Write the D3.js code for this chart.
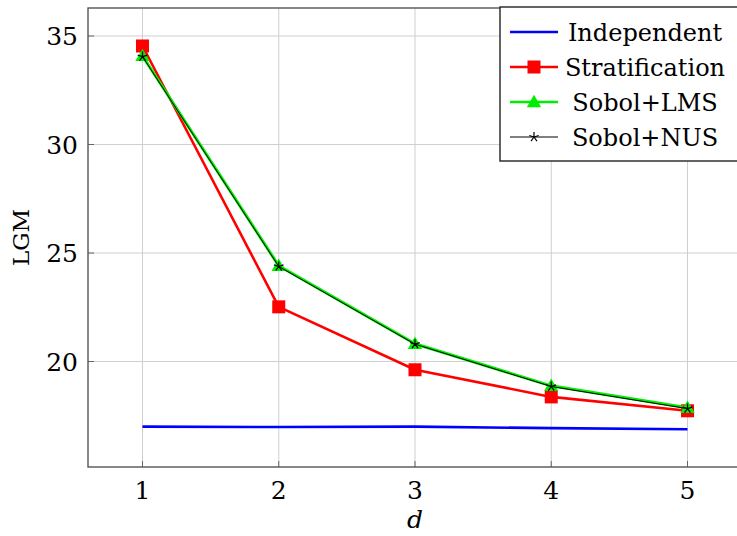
<!DOCTYPE html>
<html lang="en">
<head>
<meta charset="UTF-8">
<title>LGM vs d</title>
<script src="https://d3js.org/d3.v7.min.js"></script>
<style>
    body { margin: 0; background: #fff; }
    svg text { font-family: "DejaVu Serif", serif; fill: #000; }
</style>
</head>
<body>
<div id="chart"></div>
<script>
// data
const dims = [1, 2, 3, 4, 5];
const independent = [17.0, 16.98, 17.0, 16.93, 16.88];
const stratification = [34.54, 22.52, 19.62, 18.37, 17.73];
const sobolLMS = [34.08, 24.41, 20.82, 18.88, 17.87];
const sobolNUS = [34.05, 24.38, 20.8, 18.85, 17.83];
const yTicks = [20, 25, 30, 35];

const series = [
    { name: "Independent", values: independent, color: "#0000ff", width: 2.6, marker: null },
    { name: "Stratification", values: stratification, color: "#ff0000", width: 2.6, marker: "square" },
    { name: "Sobol+LMS", values: sobolLMS, color: "#00ee00", width: 3, marker: "triangle" },
    { name: "Sobol+NUS", values: sobolNUS, color: "#000000", width: 1, marker: "star" }
];

const W = 737, H = 536;
const mLeft = 88, mTop = 8, mRight = 742, mBottom = 467;

const svg = d3.select("#chart").append("svg")
    .attr("width", W).attr("height", H);

const x = d3.scaleLinear().domain([0.6, 5.4]).range([mLeft, mRight]);
const y = d3.scaleLinear().domain([15.14, 36.29]).range([mBottom, mTop]);

// grid
svg.append("g").selectAll("line").data(dims).join("line")
    .attr("x1", d => x(d)).attr("x2", d => x(d))
    .attr("y1", mTop).attr("y2", mBottom)
    .attr("stroke", "#cfcfcf").attr("stroke-width", 1);
svg.append("g").selectAll("line").data(yTicks).join("line")
    .attr("x1", mLeft).attr("x2", mRight)
    .attr("y1", d => y(d)).attr("y2", d => y(d))
    .attr("stroke", "#cfcfcf").attr("stroke-width", 1);

// tick marks (inside)
svg.append("g").selectAll("line").data(dims).join("line")
    .attr("x1", d => x(d)).attr("x2", d => x(d))
    .attr("y1", mBottom).attr("y2", mBottom - 6)
    .attr("stroke", "#666").attr("stroke-width", 1);
svg.append("g").selectAll("line").data(yTicks).join("line")
    .attr("x1", mLeft).attr("x2", mLeft + 6)
    .attr("y1", d => y(d)).attr("y2", d => y(d))
    .attr("stroke", "#666").attr("stroke-width", 1);

// frame
svg.append("rect")
    .attr("x", mLeft).attr("y", mTop)
    .attr("width", mRight - mLeft).attr("height", mBottom - mTop)
    .attr("fill", "none").attr("stroke", "#555").attr("stroke-width", 1.4);

// tick labels
svg.append("g").selectAll("text").data(dims).join("text")
    .attr("x", d => x(d)).attr("y", mBottom + 32)
    .attr("text-anchor", "middle").style("font-size", "25px")
    .text(d => d);
svg.append("g").selectAll("text").data(yTicks).join("text")
    .attr("x", mLeft - 10).attr("y", d => y(d) + 9)
    .attr("text-anchor", "end").style("font-size", "25px")
    .text(d => d);

// axis labels
svg.append("text")
    .attr("x", x(3)).attr("y", 528)
    .attr("text-anchor", "middle").style("font-size", "25px").style("font-style", "italic")
    .text("d");
svg.append("text")
    .attr("transform", `translate(29,${(mTop + mBottom) / 2}) rotate(-90)`)
    .attr("text-anchor", "middle").style("font-size", "23px")
    .text("LGM");

function drawMarker(g, type, color, cx, cy) {
    if (type === "square") {
        g.append("rect").attr("x", cx - 6.5).attr("y", cy - 6.5)
            .attr("width", 13).attr("height", 13).attr("fill", color);
    } else if (type === "triangle") {
        g.append("path")
            .attr("d", d3.symbol(d3.symbolTriangle, 90)())
            .attr("transform", `translate(${cx},${cy + 1})`)
            .attr("fill", color);
    } else if (type === "star") {
        const r = 5;
        let p = "";
        for (let k = 0; k < 5; k++) {
            const a = -Math.PI / 2 + k * 2 * Math.PI / 5;
            p += `M${cx},${cy}L${cx + r * Math.cos(a)},${cy + r * Math.sin(a)}`;
        }
        g.append("path").attr("d", p).attr("stroke", color).attr("stroke-width", 1.2).attr("fill", "none");
    }
}

const line = d3.line().x((d, i) => x(dims[i])).y(d => y(d));
const plot = svg.append("g");
series.forEach(s => {
    plot.append("path").datum(s.values)
        .attr("d", line)
        .attr("fill", "none").attr("stroke", s.color)
        .attr("stroke-width", s.width).attr("stroke-linejoin", "round");
    if (s.marker) {
        s.values.forEach((v, i) => drawMarker(plot, s.marker, s.color, x(dims[i]), y(v)));
    }
});

// legend
const lg = svg.append("g");
lg.append("rect")
    .attr("x", 500).attr("y", 7).attr("width", 260).attr("height", 154)
    .attr("fill", "#fff").attr("stroke", "#222").attr("stroke-width", 1.4);
series.forEach((s, i) => {
    const ly = 32 + i * 35;
    lg.append("line").attr("x1", 510).attr("x2", 558).attr("y1", ly).attr("y2", ly)
        .attr("stroke", s.color).attr("stroke-width", s.width === 1 ? 1 : 2.6);
    if (s.marker) drawMarker(lg, s.marker, s.color, 534, ly);
    lg.append("text")
        .attr("x", 645).attr("y", ly + 9)
        .attr("text-anchor", "middle").style("font-size", "24px")
        .text(s.name);
});
</script>
</body>
</html>
